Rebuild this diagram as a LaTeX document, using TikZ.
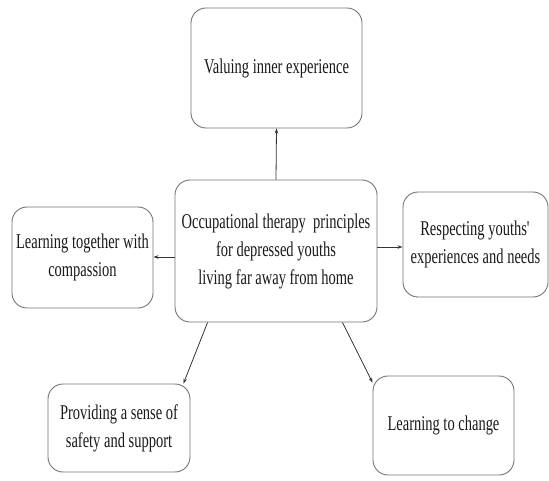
\documentclass[tikz,border=0pt]{standalone}
\usepackage{fontspec}
\setmainfont{Liberation Serif}[FakeStretch=0.69]
\usetikzlibrary{arrows.meta}
\begin{document}
\begin{tikzpicture}[x=1pt,y=-1pt,
    box/.style={draw=black!55, line width=0.9pt, rounded corners=15pt, align=center, inner sep=2pt,
                font=\fontsize{21}{28}\selectfont, text=black!90},
    link/.style={draw=black!80, line width=0.8pt, -{Stealth[length=5pt,width=3.5pt]}}]
  \useasboundingbox (0,0) rectangle (549,481);

  \node [box, minimum width=202pt, minimum height=142pt] (core) at (276,251)
    {Occupational therapy \ principles\\for depressed youths\\living far away from home};

  \node [box, minimum width=171pt, minimum height=120pt] (inner) at (276.5,68) {Valuing inner experience};
  \node [box, minimum width=141pt, minimum height=101pt] (compassion) at (82.5,257.5) {Learning together with\\compassion};
  \node [box, minimum width=145pt, minimum height=105pt] (needs) at (475.5,244.5) {Respecting youths\textquotesingle\\experiences and needs};
  \node [box, minimum width=142pt, minimum height=88pt] (safety) at (119,428) {Providing a sense of\\safety and support};
  \node [box, minimum width=141pt, minimum height=99pt] (change) at (443.5,425.5) {Learning to change};

  \draw [link] (core.north) -- (inner.south);
  \draw [link] ([yshift=-6pt]core.west) -- ([yshift=-6pt]core.west -| compassion.east);
  \draw [link] ([yshift=4pt]core.east) -- ([yshift=4pt]core.east -| needs.west);
  \draw [link] ([xshift=33pt]core.south west) -- ([xshift=-7pt]safety.north east);
  \draw [link] ([xshift=-35pt]core.south east) -- ([yshift=-7pt]change.north west);

\end{tikzpicture}
\end{document}
